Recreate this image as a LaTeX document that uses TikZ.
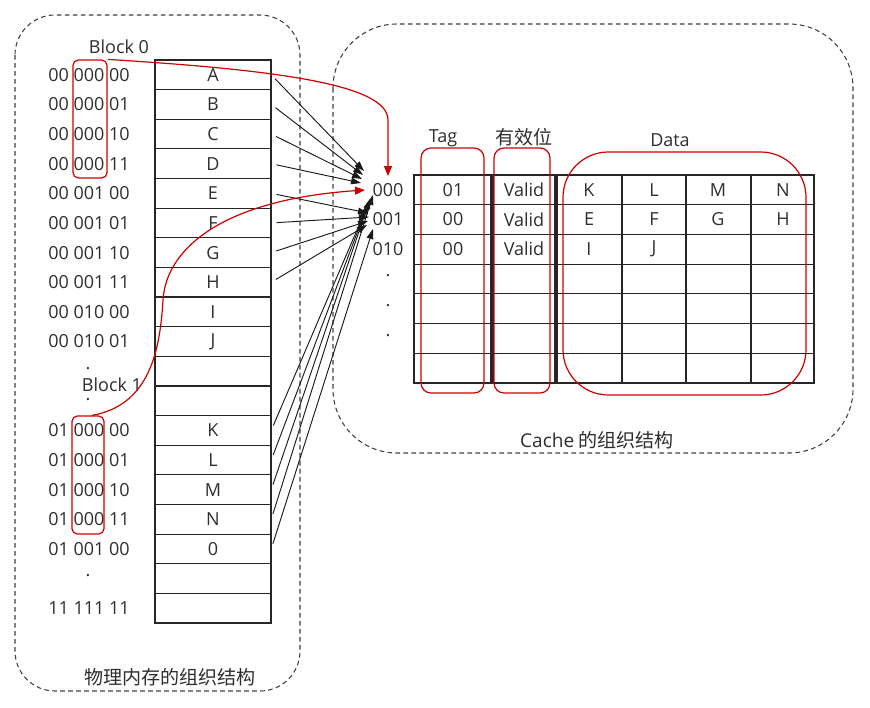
\documentclass[tikz,border=0pt]{standalone}
\usepackage{fontspec}
\setmainfont{Open Sans}
\newfontfamily\cjk{Noto Sans CJK SC}
\usetikzlibrary{arrows.meta}

\begin{document}
\begin{tikzpicture}[x=0.75pt,y=-0.75pt,
  txt/.style={font=\fontsize{13.5}{15}\selectfont, text=black!82, inner sep=0},
  cjktxt/.style={font=\cjk\fontsize{14.3}{16}\selectfont, text=black!82, inner sep=0},
  memcell/.style={minimum width=87pt, minimum height=22.22pt,
    inner sep=0, font=\fontsize{13.5}{15}\selectfont, text=black!82},
  grid/.style={draw=black!85, line width=0.85pt},
  group/.style={draw=black!75, dash pattern=on 3.5pt off 2.5pt, line width=0.8pt},
  hlbox/.style={draw=red!80!black, line width=0.9pt, rounded corners=4pt, inner sep=0},
  hl/.style={draw=red!80!black, line width=0.9pt},
  map/.style={draw=black!90, line width=0.7pt, shorten <=4pt, -{Triangle[length=7.5pt,width=5pt]}},
  redmap/.style={draw=red!80!black, line width=0.9pt, -{Triangle[length=7.5pt,width=6pt]}},
]
\useasboundingbox (0,0) rectangle (870,707);

% dashed group outlines
\draw[group, rounded corners=30pt] (15,15) rectangle (300,691);
\draw[group, rounded corners=48pt] (333,24) rectangle (853,453);

% ---------- physical memory ----------
\draw[grid] (155,60) rectangle (271,623);
\foreach \k in {1,...,18} \draw[grid] (155,{60+29.63*\k}) -- (271,{60+29.63*\k});
\foreach \t [count=\i] in {A,B,C,D,E,F,G,H,I,J,{},{},K,L,M,N,0,{},{}} {
  \node[memcell] (m\i) at (213,{60+29.63*(\i-0.5)}) {\t};
}

\foreach \r/\a in {1/00 000 00,2/00 000 01,3/00 000 10,4/00 000 11,
                   5/00 001 00,6/00 001 01,7/00 001 10,8/00 001 11,
                   9/00 010 00,10/00 010 01,
                   13/01 000 00,14/01 000 01,15/01 000 10,16/01 000 11,
                   17/01 001 00,19/11 111 11} {
  \node[txt] (addr\r) at (89,{60+29.63*(\r-0.5)}) {\a};
}
\node[txt] (dotA) at (88,369) {.};
\node[txt] (dotB) at (88,400) {.};
\node[txt] (dotC) at (88,576) {.};
\node[txt] (blk0) at (119,47) {Block 0};
\node[txt] (blk1) at (112,385) {Block 1};

% index bits of each block
\node[hlbox, minimum width=25.5pt, minimum height=88.5pt] (b0) at (90,119) {};
\node[hlbox, minimum width=24pt, minimum height=88.5pt] (b1) at (88,475) {};

\node[cjktxt] (memtitle) at (170,677) {物理内存的组织结构};

% ---------- cache ----------
% tag column
\draw[grid] (414,175) rectangle (491,383);
% valid column
\draw[grid] (493,175) rectangle (555,383);
% data columns
\draw[grid] (557,175) rectangle (814,383);
\foreach \x in {622,686,751} \draw[grid] (\x,175) -- (\x,383);
\foreach \k in {1,...,6} {
  \draw[grid] (414,{175+29.71*\k}) -- (491,{175+29.71*\k});
  \draw[grid] (493,{175+29.71*\k}) -- (555,{175+29.71*\k});
  \draw[grid] (557,{175+29.71*\k}) -- (814,{175+29.71*\k});
}

\node[txt] (tag1) at (453,190) {01};
\node[txt] (tag2) at (453,219.5) {00};
\node[txt] (tag3) at (453,249) {00};
\node[txt] (val1) at (524,190) {Valid};
\node[txt] (val2) at (524,219.5) {Valid};
\node[txt] (val3) at (524,249) {Valid};
\node[txt] (d11) at (589,190) {K};
\node[txt] (d12) at (654,190) {L};
\node[txt] (d13) at (718,190) {M};
\node[txt] (d14) at (783,190) {N};
\node[txt] (d21) at (589,219.5) {E};
\node[txt] (d22) at (654,219.5) {F};
\node[txt] (d23) at (718,219.5) {G};
\node[txt] (d24) at (783,219.5) {H};
\node[txt] (d31) at (589,249) {I};
\node[txt] (d32) at (654,249) {J};

\node[txt] (line0) at (388,190) {000};
\node[txt] (line1) at (388,219.5) {001};
\node[txt] (line2) at (388,249) {010};
\node[txt] (ld1) at (388,276) {.};
\node[txt] (ld2) at (388,306) {.};
\node[txt] (ld3) at (388,336) {.};

\node[txt] (tagH) at (443,138) {Tag};
\node[cjktxt] (valH) at (524,137) {有效位};
\node[txt] (dataH) at (670,140) {Data};

% field outlines
\draw[hl, rounded corners=7.5pt] (421,148) rectangle (484,393);
\draw[hl, rounded corners=7.5pt] (494,148) rectangle (550,393);
\draw[hl, rounded corners=34pt] (563,152) rectangle (806,395);

\node[cjktxt] (cachetitle) at (597,440) {{\fontspec{Open Sans}Cache} 的组织结构};

% ---------- mapping ----------
\coordinate (tA) at (364,171);
\coordinate (tB) at (363,175);
\coordinate (tC) at (362,179);
\coordinate (tD) at (361,183);
\coordinate (tE) at (368,213);
\coordinate (tF) at (369,217);
\coordinate (tG) at (368,221);
\coordinate (tH) at (367,225);
\coordinate (tK) at (366,209);
\coordinate (tL) at (368,204);
\coordinate (tM) at (370,199);
\coordinate (tN) at (373,195);
\coordinate (tO) at (373,229);

\foreach \s/\e in {1/A,2/B,3/C,4/D,5/E,6/F,7/G,8/H,13/K,14/L,15/M,16/N,17/O}
  \draw[map] (m\s.east) -- (t\e);

\coordinate (r0) at (388,176);
\coordinate (r1) at (365,190);
\draw[redmap] (b0.north east) .. controls (280,70) and (388,85) .. (388,120) -- (r0);
\draw[redmap] ([xshift=3pt]b1.north) .. controls (150,405) and (160,350) .. (163,300)
  .. controls (166,250) and (220,200) .. (r1);

\end{tikzpicture}
\end{document}
